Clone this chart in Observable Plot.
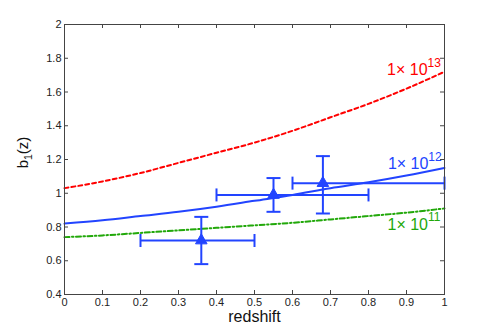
<!DOCTYPE html>
<html><head><meta charset="utf-8">
<script src="https://cdn.jsdelivr.net/npm/d3@7"></script>
<script src="https://cdn.jsdelivr.net/npm/@observablehq/plot@0.6"></script>
<style>
body{margin:0;background:#fff}
svg{font-family:"Liberation Sans",Arial,Helvetica,sans-serif}
</style>
</head><body><div id="chart"></div>
<script>
// model curves b1(z) for three halo masses
const zGrid = [0, 0.1, 0.2, 0.3, 0.4, 0.5, 0.6, 0.7, 0.8, 0.9, 1.0];
const b13 = [1.03, 1.07, 1.12, 1.18, 1.24, 1.30, 1.37, 1.45, 1.53, 1.62, 1.72];
const b12 = [0.82, 0.84, 0.865, 0.89, 0.92, 0.955, 0.99, 1.03, 1.065, 1.105, 1.15];
const b11 = [0.74, 0.75, 0.765, 0.78, 0.795, 0.81, 0.825, 0.845, 0.865, 0.885, 0.91];
const seriesNames = ["1× 10^13", "1× 10^12", "1× 10^11"];

// measurements with error bars
const obsZ   = [0.36, 0.55, 0.68];
const obsB   = [0.72, 0.99, 1.06];
const obsZlo = [0.20, 0.40, 0.60];
const obsZhi = [0.50, 0.80, 1.00];
const obsBlo = [0.58, 0.89, 0.88];
const obsBhi = [0.86, 1.09, 1.22];

// ticks
const xTicks = [0, 0.1, 0.2, 0.3, 0.4, 0.5, 0.6, 0.7, 0.8, 0.9, 1];
const xTickLabels = ["0", "0.1", "0.2", "0.3", "0.4", "0.5", "0.6", "0.7", "0.8", "0.9", "1"];
const yTicks = [0.4, 0.6, 0.8, 1, 1.2, 1.4, 1.6, 1.8, 2];
const yTickLabels = ["0.4", "0.6", "0.8", "1", "1.2", "1.4", "1.6", "1.8", "2"];

const RED = "#ff0000", BLUE = "#2244ff", GREEN = "#22a80a";

const curve = (vals) => zGrid.map((z, i) => ({z, b: vals[i]}));
const obs = obsZ.map((z, i) => ({z, b: obsB[i], zlo: obsZlo[i], zhi: obsZhi[i], blo: obsBlo[i], bhi: obsBhi[i]}));

const W = 491, H = 331, mL = 64, mR = 47, mT = 24, mB = 37;
const fw = W - mL - mR, fh = H - mT - mB, TL = 4;

const hCap = {draw(ctx) { ctx.moveTo(-7, 0); ctx.lineTo(7, 0); }};
const vCap = {draw(ctx) { ctx.moveTo(0, -6.5); ctx.lineTo(0, 6.5); }};

const labels = [
  {z: 0.849, b: 1.698, t: seriesNames[0], c: RED},
  {z: 0.851, b: 1.141, t: seriesNames[1], c: BLUE},
  {z: 0.850, b: 0.785, t: seriesNames[2], c: GREEN}
];

const plot = Plot.plot({
  width: W, height: H,
  marginLeft: mL, marginRight: mR, marginTop: mT, marginBottom: mB,
  style: {background: "#fff", color: "#222"},
  x: {domain: [0, 1]},
  y: {domain: [0.4, 2]},
  marks: [
    // inward ticks on all four sides
    Plot.ruleX(xTicks, {x: d => d, insetTop: fh - TL, stroke: "#444"}),
    Plot.ruleX(xTicks, {x: d => d, insetBottom: fh - TL, stroke: "#444"}),
    Plot.ruleY(yTicks, {y: d => d, insetRight: fw - TL, stroke: "#444"}),
    Plot.ruleY(yTicks, {y: d => d, insetLeft: fw - TL, stroke: "#444"}),
    Plot.axisX(xTicks, {tickSize: 0, tickPadding: 4, fontSize: 11, tickFormat: d => xTickLabels[xTicks.indexOf(d)], label: null}),
    Plot.axisY(yTicks, {tickSize: 0, tickPadding: 3, fontSize: 11, tickFormat: d => yTickLabels[yTicks.indexOf(d)], label: null}),
    // curves
    Plot.line(curve(b13), {x: "z", y: "b", stroke: RED, strokeWidth: 2, strokeDasharray: "4,3", curve: "monotone-x"}),
    Plot.line(curve(b12), {x: "z", y: "b", stroke: BLUE, strokeWidth: 2, curve: "monotone-x"}),
    Plot.line(curve(b11), {x: "z", y: "b", stroke: GREEN, strokeWidth: 2, strokeDasharray: "5,2.5,1.5,2.5", curve: "monotone-x"}),
    // error bars
    Plot.ruleY(obs, {y: "b", x1: "zlo", x2: "zhi", stroke: BLUE, strokeWidth: 2}),
    Plot.ruleX(obs, {x: "z", y1: "blo", y2: "bhi", stroke: BLUE, strokeWidth: 2}),
    Plot.dot(obs, {x: "zlo", y: "b", symbol: vCap, stroke: BLUE, strokeWidth: 2, r: 1}),
    Plot.dot(obs, {x: "zhi", y: "b", symbol: vCap, stroke: BLUE, strokeWidth: 2, r: 1}),
    Plot.dot(obs, {x: "z", y: "blo", symbol: hCap, stroke: BLUE, strokeWidth: 2, r: 1}),
    Plot.dot(obs, {x: "z", y: "bhi", symbol: hCap, stroke: BLUE, strokeWidth: 2, r: 1}),
    Plot.dot(obs, {x: "z", y: "b", symbol: "triangle", fill: BLUE, stroke: BLUE, strokeWidth: 1, r: 4.3}),
    // series labels
    Plot.text(labels, {x: "z", y: "b", text: "t", fill: "c", fontSize: 16, textAnchor: "start", lineAnchor: "bottom"}),
    // axis titles
    Plot.text(["redshift"], {frameAnchor: "bottom", dy: 27, lineAnchor: "bottom", fontSize: 16, fill: "#111"}),
    Plot.text(["b_1(z)"], {frameAnchor: "left", dx: -37, dy: -7, rotate: -90, textAnchor: "middle", lineAnchor: "bottom", fontSize: 15, fill: "#111"}),
    Plot.frame({stroke: "#444"})
  ]
});

// rich text: superscripts / subscripts
d3.select(plot).selectAll("text").each(function() {
  const t = this.textContent;
  const el = d3.select(this);
  if (t.includes("^")) {
    const [base, sup] = t.split("^");
    el.text(null);
    el.append("tspan").text(base);
    el.append("tspan").attr("font-size", 12).attr("dy", -8.5).text(sup);
  } else if (t === "b_1(z)") {
    el.text(null);
    el.append("tspan").text("b");
    el.append("tspan").attr("font-size", 10.5).attr("dy", 4).text("1");
    el.append("tspan").attr("dy", -4).text("(z)");
  }
});

document.getElementById("chart").appendChild(plot);
</script>
</body></html>
